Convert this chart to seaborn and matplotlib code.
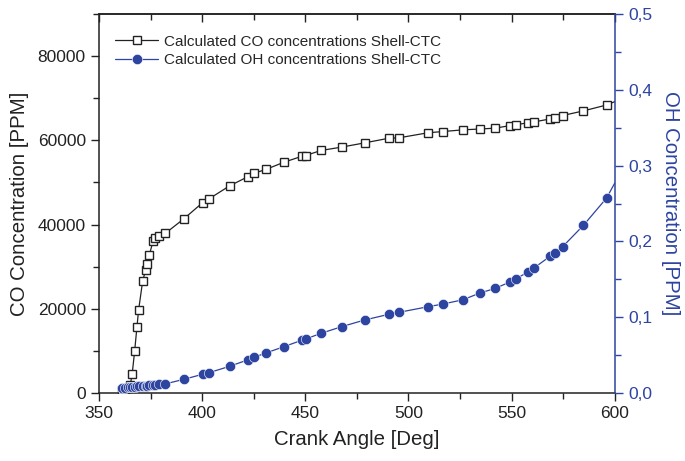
import numpy as np
import pandas as pd
import matplotlib
matplotlib.use("Agg")
import matplotlib.pyplot as plt
import seaborn as sns
from matplotlib.ticker import MultipleLocator, FuncFormatter
from matplotlib.lines import Line2D

# crank angle [deg] (last value = end of the fitted line, no marker)
crank_angle = [361.0, 362.5, 364.0, 365.2, 366.1, 367.3, 368.4, 369.2, 371.2, 372.6,
               373.1, 374.4, 376.3, 377.1, 379.2, 382.1, 391.2, 400.2, 403.3, 413.3,
               422.3, 425.2, 430.9, 439.6, 448.2, 450.1, 457.6, 467.6, 478.7, 490.4,
               495.3, 509.4, 516.7, 526.4, 534.7, 542.0, 549.1, 552.0, 558.1, 561.0,
               568.8, 571.1, 574.7, 584.8, 596.0, 600.0]

# CO concentration [PPM]
co_ppm = [700, 900, 1300, 2000, 4600, 10000, 15700, 19700, 26700, 29100,
          30600, 32800, 36200, 36700, 37400, 37900, 41400, 45200, 46100, 49200,
          51400, 52200, 53100, 54800, 56200, 56400, 57600, 58400, 59400, 60500,
          60600, 61800, 62100, 62500, 62700, 62900, 63500, 63700, 64200, 64400,
          65100, 65400, 65900, 67000, 68400, 69200]

# OH concentration [PPM]
oh_ppm = [0.0065, 0.0070, 0.0075, 0.0078, 0.0080, 0.0083, 0.0086, 0.0088, 0.0093, 0.0097,
          0.0098, 0.0101, 0.0106, 0.0108, 0.0113, 0.0120, 0.0181, 0.0247, 0.0268, 0.0352,
          0.0439, 0.0471, 0.0528, 0.0611, 0.0695, 0.0712, 0.0787, 0.0875, 0.0963, 0.1038,
          0.1064, 0.1138, 0.1174, 0.1230, 0.1320, 0.1380, 0.1464, 0.1504, 0.1600, 0.1653,
          0.1807, 0.1843, 0.1930, 0.2212, 0.2572, 0.2770]

co_label = "Calculated CO concentrations Shell-CTC"
oh_label = "Calculated OH concentrations Shell-CTC"

blue = "#2d44a0"
dark = "#222222"

df = pd.DataFrame({"angle": crank_angle, "co": co_ppm, "oh": oh_ppm})
n_marks = list(range(len(df) - 1))

sns.set_style("ticks")
plt.rcParams["font.family"] = ["Liberation Sans", "DejaVu Sans"]

fig = plt.figure(figsize=(6.85, 4.61), dpi=100)
ax = fig.add_axes([0.1445, 0.1475, 0.753, 0.822])
ax2 = ax.twinx()

sq_size = 6.2
dot_size = 7.4

sns.lineplot(data=df, x="angle", y="co", ax=ax, color=dark, lw=0.9,
             estimator=None, sort=False, marker="s", markersize=sq_size,
             markerfacecolor="white", markeredgecolor=dark, markeredgewidth=1.0,
             markevery=n_marks, zorder=3)
sns.lineplot(data=df, x="angle", y="oh", ax=ax2, color=blue, lw=0.9,
             estimator=None, sort=False, marker="o", markersize=dot_size,
             markerfacecolor=blue, markeredgecolor="white", markeredgewidth=0.4,
             markevery=n_marks, zorder=3)

# left axis
ax.set_xlim(350, 600)
ax.set_ylim(0, 90000)
ax.xaxis.set_major_locator(MultipleLocator(50))
ax.xaxis.set_minor_locator(MultipleLocator(25))
ax.yaxis.set_major_locator(MultipleLocator(20000))
ax.yaxis.set_minor_locator(MultipleLocator(10000))
ax.tick_params(axis="both", which="major", direction="out", length=6, width=1,
               colors=dark, labelsize=12.5)
ax.tick_params(axis="both", which="minor", direction="out", length=4, width=1,
               colors=dark)
ax.set_xlabel("Crank Angle [Deg]", fontsize=14.7, color=dark, labelpad=6)
ax.set_ylabel("CO Concentration [PPM]", fontsize=14.7, color=dark, labelpad=6)
for s in ["left", "bottom", "top"]:
    ax.spines[s].set_color(dark)
    ax.spines[s].set_linewidth(1.1)
ax.spines["right"].set_visible(False)

# top axis: ticks pointing inward, no labels
top = ax.secondary_xaxis("top")
top.xaxis.set_major_locator(MultipleLocator(50))
top.xaxis.set_minor_locator(MultipleLocator(25))
top.tick_params(which="major", direction="in", length=6, width=1, colors=dark,
                labeltop=False)
top.tick_params(which="minor", direction="in", length=4, width=1, colors=dark)
top.spines["top"].set_color(dark)
top.spines["top"].set_linewidth(1.1)

# right axis
ax2.set_ylim(0, 0.5)
ax2.yaxis.set_major_locator(MultipleLocator(0.1))
ax2.yaxis.set_minor_locator(MultipleLocator(0.05))
ax2.yaxis.set_major_formatter(FuncFormatter(lambda v, p: f"{v:.1f}".replace(".", ",")))
ax2.tick_params(axis="y", which="major", direction="out", length=6, width=1,
                colors=blue, labelsize=12.5)
ax2.tick_params(axis="y", which="minor", direction="out", length=4, width=1,
                colors=blue)
ax2.set_ylabel("OH Concentration [PPM]", fontsize=14.7, color=blue,
               rotation=270, labelpad=20)
ax2.spines["right"].set_color(blue)
ax2.spines["right"].set_linewidth(1.1)
for s in ["left", "bottom", "top"]:
    ax2.spines[s].set_visible(False)

handles = [
    Line2D([], [], color=dark, lw=0.9, marker="s", markersize=sq_size,
           markerfacecolor="white", markeredgecolor=dark),
    Line2D([], [], color=blue, lw=0.9, marker="o", markersize=dot_size,
           markerfacecolor=blue, markeredgecolor="white", markeredgewidth=0.4),
]
ax.legend(handles, [co_label, oh_label], loc="upper left", frameon=False,
          fontsize=11, handlelength=2.8, handletextpad=0.4, labelspacing=0.3,
          bbox_to_anchor=(0.005, 0.982))
if ax2.get_legend() is not None:
    ax2.get_legend().remove()

fig.savefig("out.png", dpi=100)
